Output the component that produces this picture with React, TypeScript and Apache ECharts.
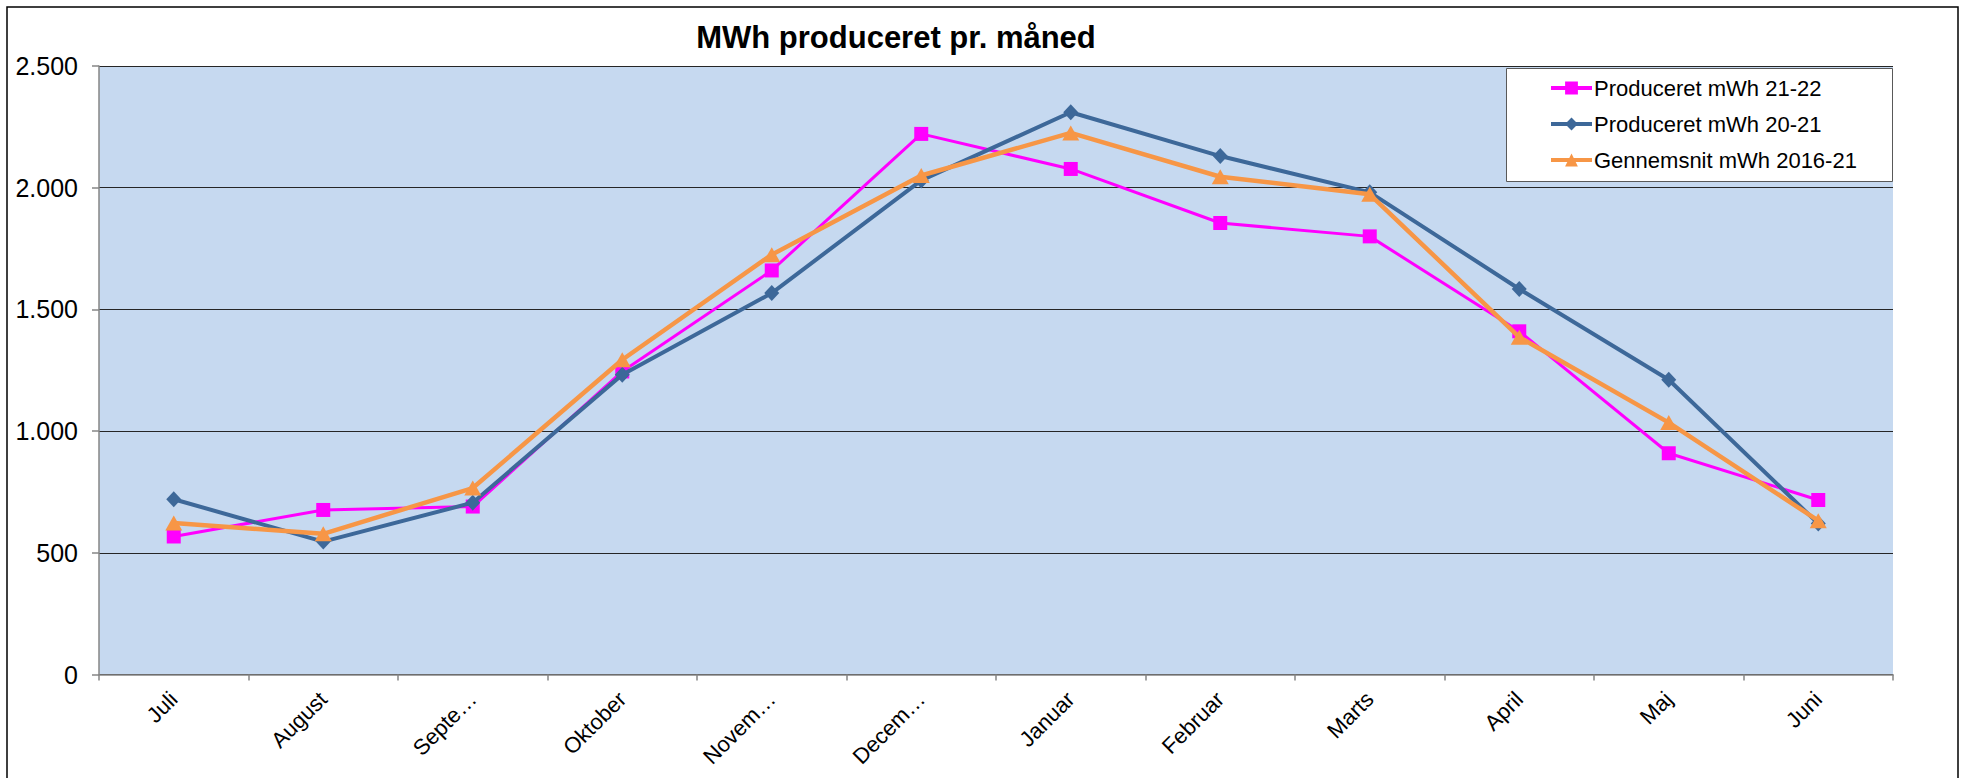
import React, { useEffect, useRef } from "react";
import * as echarts from "echarts";

const months = ["Juli", "August", "September", "Oktober", "November", "December", "Januar", "Februar", "Marts", "April", "Maj", "Juni"];
const tickLabels = ["Juli", "August", "Septe…", "Oktober", "Novem…", "Decem…", "Januar", "Februar", "Marts", "April", "Maj", "Juni"];
const prod2122 = [567, 676, 690, 1245, 1660, 2221, 2077, 1855, 1800, 1410, 909, 717];
const prod2021 = [720, 546, 706, 1232, 1567, 2030, 2310, 2130, 1981, 1584, 1211, 620];
const avg1621 = [622, 578, 766, 1293, 1725, 2050, 2225, 2045, 1973, 1386, 1035, 632];
const seriesNames = ["Produceret mWh 21-22", "Produceret mWh 20-21", "Gennemsnit mWh 2016-21"];
const seriesColors = ["#FF00FF", "#3D6899", "#F79646"];
const titleText = "MWh produceret pr. måned";

const FONT = "'Liberation Sans', Arial, sans-serif";

export default function App() {
  const ref = useRef<HTMLDivElement>(null);
  useEffect(() => {
    if (!ref.current) return;
    const chart = echarts.init(ref.current, null, { renderer: "svg" });
    const fmt = (v: number) => {
      const s = String(Math.round(v));
      return s.replace(/\B(?=(\d{3})+(?!\d))/g, ".");
    };
    chart.setOption({
      animation: false,
      backgroundColor: "#ffffff",
      textStyle: { fontFamily: FONT },
      grid: { left: 99, right: 73, top: 66, bottom: 103.5, show: true, backgroundColor: "#C6D9F0", borderWidth: 0 },
      graphic: [
        {
          type: "rect",
          shape: { x: 7, y: 7, width: 1951, height: 820 },
          style: { fill: "none", stroke: "#000", lineWidth: 1.5 },
          z: 100,
          silent: true,
        },
        {
          type: "text",
          x: 896,
          y: 37,
          style: { text: titleText, font: "bold 31px 'Liberation Sans', Arial, sans-serif", fill: "#000", textAlign: "center", textVerticalAlign: "middle" },
          z: 100,
        },
        {
          type: "rect",
          shape: { x: 1506.5, y: 68.5, width: 386, height: 113 },
          style: { fill: "#ffffff", stroke: "#595959", lineWidth: 1 },
          z: 50,
        },
      ],
      legend: {
        orient: "vertical",
        left: 1549,
        top: 77,
        padding: 0,
        itemWidth: 41,
        itemHeight: 16,
        itemGap: 14,
        z: 60,
        lineStyle: { width: 4 },
        textStyle: { fontSize: 22, color: "#000", fontFamily: FONT, padding: [0, 0, 0, -3] },
        data: seriesNames,
      },
      xAxis: {
        type: "category",
        data: months,
        boundaryGap: true,
        axisLine: { lineStyle: { color: "#868686", width: 1.5 } },
        axisTick: { show: true, length: 6, lineStyle: { color: "#868686", width: 1.5 } },
        axisLabel: {
          rotate: 45,
          margin: 21,
          fontSize: 22,
          color: "#000",
          fontFamily: FONT,
          interval: 0,
          formatter: (_v: string, i: number) => tickLabels[i],
        },
        splitLine: { show: false },
      },
      yAxis: {
        type: "value",
        min: 0,
        max: 2500,
        interval: 500,
        axisLine: { show: true, lineStyle: { color: "#868686", width: 1.5 } },
        axisTick: { show: true, length: 7, lineStyle: { color: "#868686", width: 1.5 } },
        axisLabel: { fontSize: 25, color: "#000", margin: 21, fontFamily: FONT, formatter: (v: number) => fmt(v) },
        splitLine: { show: true, lineStyle: { color: "#262626", width: 1.2 } },
      },
      series: [
        {
          name: seriesNames[0],
          type: "line",
          data: prod2122,
          symbol: "rect",
          symbolSize: 14,
          lineStyle: { color: seriesColors[0], width: 3 },
          itemStyle: { color: seriesColors[0] },
          z: 2,
        },
        {
          name: seriesNames[1],
          type: "line",
          data: prod2021,
          symbol: "diamond",
          symbolSize: [15, 16],
          lineStyle: { color: seriesColors[1], width: 4 },
          itemStyle: { color: seriesColors[1] },
          z: 3,
        },
        {
          name: seriesNames[2],
          type: "line",
          data: avg1621,
          symbol: "triangle",
          symbolSize: [17, 15],
          lineStyle: { color: seriesColors[2], width: 4.5 },
          itemStyle: { color: seriesColors[2] },
          z: 4,
        },
      ],
    });
    return () => chart.dispose();
  }, []);
  return <div ref={ref} style={{ position: "absolute", left: 0, top: 0, width: 1966, height: 778 }} />;
}
